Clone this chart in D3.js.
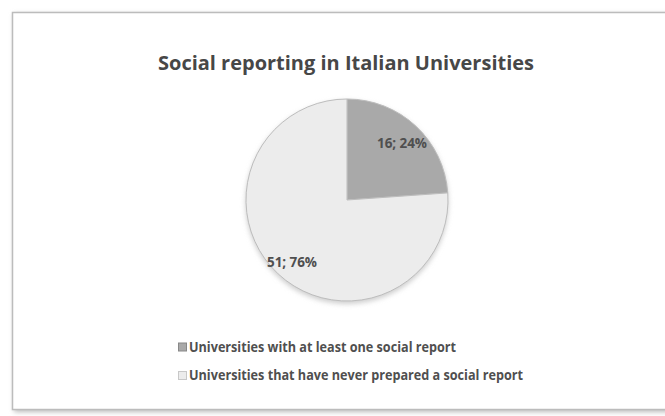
<!DOCTYPE html>
<html>
<head>
<meta charset="utf-8">
<script src="https://cdn.jsdelivr.net/npm/d3@7"></script>
<style>
  body { margin: 0; background: #fff; }
  text { font-family: "Open Sans", "Liberation Sans", sans-serif; }
</style>
</head>
<body>
<div id="chart"></div>
<script>
var W = 665, H = 416;
var title = "Social reporting in Italian Universities";
var categories = ["Universities with at least one social report",
                  "Universities that have never prepared a social report"];
var counts = [16, 51];
var percents = ["24%", "76%"];
var colors = ["#a9a9a9", "#ececec"];

var svg = d3.select("#chart").append("svg")
    .attr("width", W)
    .attr("height", H);

var defs = svg.append("defs");
var blur = defs.append("filter").attr("id", "shadow")
    .attr("x", "-10%").attr("y", "-10%").attr("width", "130%").attr("height", "130%");
blur.append("feGaussianBlur").attr("stdDeviation", 2.5);

// outer frame with soft shadow
svg.append("rect")
    .attr("x", 14).attr("y", 14)
    .attr("width", 680).attr("height", 398)
    .attr("fill", "#bbb")
    .attr("filter", "url(#shadow)");
svg.append("rect")
    .attr("x", 12.5).attr("y", 12.5)
    .attr("width", 680).attr("height", 397)
    .attr("fill", "#fff")
    .attr("stroke", "#bcbcbc")
    .attr("stroke-width", 1.5);

svg.append("text")
    .attr("x", 346).attr("y", 69.5)
    .attr("text-anchor", "middle")
    .attr("font-size", 19.5)
    .attr("font-weight", "bold")
    .attr("fill", "#474747")
    .attr("textLength", 376)
    .attr("lengthAdjust", "spacingAndGlyphs")
    .text(title);

var cx = 347, cy = 200, r = 101;
var pie = d3.pie().sort(null).value(d => d);
var arcs = pie(counts);
var arc = d3.arc().innerRadius(0).outerRadius(r);

var g = svg.append("g").attr("transform", "translate(" + cx + "," + cy + ")");

// faint shadow under pie
g.append("circle")
    .attr("cx", 0).attr("cy", 2.5).attr("r", r + 0.5)
    .attr("fill", "#cfcfcf")
    .attr("filter", "url(#shadow)");

g.selectAll("path.slice")
    .data(arcs)
    .join("path")
    .attr("class", "slice")
    .attr("d", arc)
    .attr("fill", (d, i) => colors[i])
    .attr("stroke", "#bdbdbd")
    .attr("stroke-width", 1);

var labelPos = [[55, -52], [-55, 67]];
g.selectAll("text.lbl")
    .data(arcs)
    .join("text")
    .attr("class", "lbl")
    .attr("x", (d, i) => labelPos[i][0])
    .attr("y", (d, i) => labelPos[i][1])
    .attr("text-anchor", "middle")
    .attr("font-size", 13.5)
    .attr("font-weight", "bold")
    .attr("fill", "#4f4f4f")
    .attr("textLength", 50)
    .text((d, i) => counts[i] + "; " + percents[i]);

var legW = [267, 334];
var leg = svg.append("g");
var rows = leg.selectAll("g")
    .data(categories)
    .join("g")
    .attr("transform", (d, i) => "translate(178," + (351.5 + i * 28.5) + ")");
rows.append("rect")
    .attr("x", 0.5).attr("y", -8.5)
    .attr("width", 8).attr("height", 8)
    .attr("fill", (d, i) => colors[i])
    .attr("stroke", (d, i) => i === 0 ? "#888" : "#c8c8c8")
    .attr("stroke-width", 1);
rows.append("text")
    .attr("x", 11).attr("y", 0)
    .attr("font-size", 14)
    .attr("font-weight", "bold")
    .attr("fill", "#4f4f4f")
    .attr("textLength", (d, i) => legW[i])
    .attr("lengthAdjust", "spacingAndGlyphs")
    .text(d => d);
</script>
</body>
</html>
